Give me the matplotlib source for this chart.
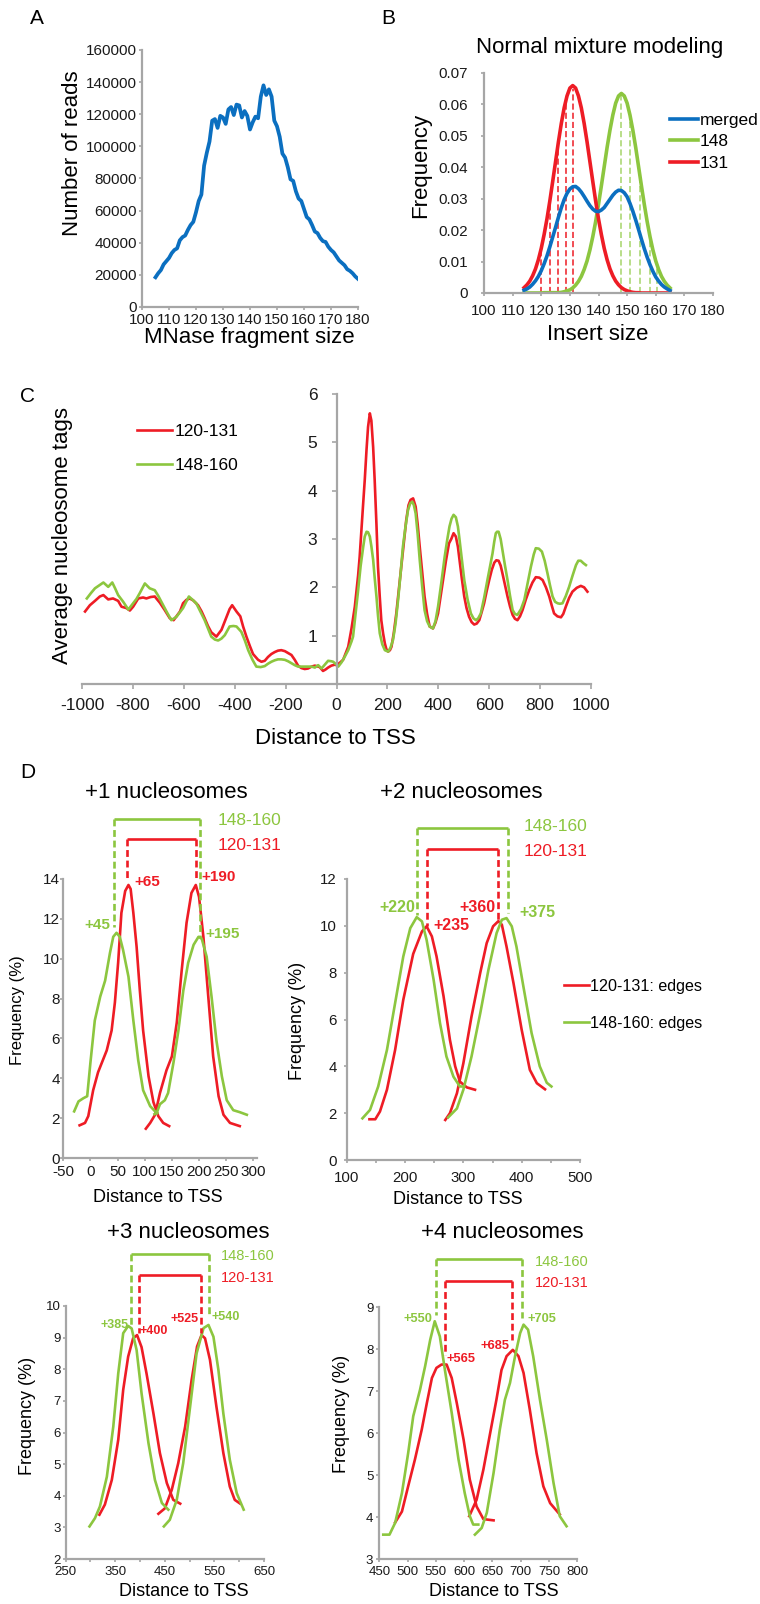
import matplotlib
matplotlib.use('Agg')
import matplotlib.pyplot as plt

W, H = 760, 1604
plt.rcParams['font.family'] = ['Liberation Sans', 'DejaVu Sans']
plt.rcParams['axes.unicode_minus'] = False

RED = '#ee1c25'
GREEN = '#8cc63f'
BLUE = '#0b6fc0'
GRAY = '#a6a6a6'

# ---------------- Panel A data ----------------
a_size = list(range(105, 181))
a_reads = [18500, 21000, 23000, 26500, 28500, 30500, 33500, 35500, 36500, 41500,
           43500, 44500, 48000, 51000, 53000, 59000, 66000, 70000, 88000, 96000,
           103000, 116000, 117000, 111500, 119000, 118000, 114000, 123000, 124500, 119500,
           126000, 125500, 118000, 122000, 119000, 110500, 115000, 118500, 117500, 131000,
           138000, 132000, 135500, 131000, 116000, 112500, 106000, 95500, 93000, 87000,
           79500, 78500, 72000, 67500, 66000, 61000, 56000, 54500, 51000, 47000,
           46000, 43000, 41000, 40500, 37500, 35500, 34000, 31500, 29000, 27500,
           26000, 23500, 22500, 21000, 19000, 17500]

# ---------------- Panel B data ----------------
b_size = list(range(114, 166))
b_131 = [0.0017, 0.0026, 0.0038, 0.0055, 0.0077, 0.0106, 0.0142, 0.0186, 0.0236, 0.0293,
         0.0355, 0.0418, 0.0481, 0.0539, 0.0589, 0.0627, 0.0652, 0.0660, 0.0652, 0.0627,
         0.0589, 0.0539, 0.0481, 0.0418, 0.0355, 0.0293, 0.0236, 0.0186, 0.0142, 0.0106,
         0.0077, 0.0055, 0.0038, 0.0026, 0.0017, 0.0011, 0.0007, 0.0004, 0.0002, 0.0001,
         0.0001, 0, 0, 0, 0, 0, 0, 0, 0, 0, 0, 0]
b_148 = [0, 0, 0, 0, 0, 0, 0, 0.0001, 0.0001, 0.0001,
         0.0001, 0.0001, 0.0001, 0.0002, 0.0004, 0.0007, 0.0010, 0.0016, 0.0025, 0.0037,
         0.0053, 0.0075, 0.0102, 0.0137, 0.0179, 0.0227, 0.0282, 0.0341, 0.0402, 0.0463,
         0.0518, 0.0566, 0.0604, 0.0627, 0.0635, 0.0627, 0.0604, 0.0566, 0.0518, 0.0463,
         0.0402, 0.0341, 0.0282, 0.0227, 0.0179, 0.0137, 0.0102, 0.0075, 0.0053, 0.0037,
         0.0025, 0.0016]
b_merged = [0.0009, 0.0013, 0.0019, 0.0028, 0.0039, 0.0053, 0.0071, 0.0093, 0.0118, 0.0147,
            0.0178, 0.0209, 0.0241, 0.0271, 0.0297, 0.0317, 0.0331, 0.0338, 0.0339, 0.0332,
            0.0321, 0.0307, 0.0292, 0.0278, 0.0267, 0.0260, 0.0259, 0.0264, 0.0272, 0.0285,
            0.0298, 0.0311, 0.0321, 0.0327, 0.0326, 0.0319, 0.0306, 0.0285, 0.0260, 0.0232,
            0.0202, 0.0171, 0.0141, 0.0114, 0.0090, 0.0069, 0.0051, 0.0038, 0.0027, 0.0019,
            0.0013, 0.0008]
b_red_cut_x = [120, 123, 126, 128.5, 131]
b_red_cut_y = [0.014, 0.029, 0.046, 0.060, 0.065]
b_green_cut_x = [148, 151, 154.5, 158, 160.3]
b_green_cut_y = [0.063, 0.055, 0.037, 0.018, 0.009]

# ---------------- Panel C data ----------------
c_red_x = [-988, -969, -949, -930, -916, -897, -878, -858, -845, -825, -812, -799, -779, -760,
           -747, -730, -714, -694, -675, -655, -640, -629, -615, -603, -590, -577, -563, -544,
           -530, -518, -505, -492, -472, -452, -432, -420, -410, -393, -378, -367, -354, -340,
           -328, -308, -295, -282, -269, -256, -243, -230, -217, -203, -190, -177, -164, -151,
           -138, -125, -112, -98, -85, -66, -53, -43, -33, -20, -7, 0, 13, 26, 46, 59, 72, 85,
           91, 98, 105, 111, 118, 124, 131, 137, 144, 150, 157, 163, 170, 176, 183, 190, 196,
           203, 210, 216, 225, 235, 245, 255, 265, 274, 283, 291, 301, 311, 319, 327, 337, 346,
           356, 366, 379, 389, 399, 408, 418, 430, 442, 451, 460, 469, 477, 482, 492, 502, 511,
           521, 531, 541, 551, 561, 570, 580, 590, 600, 610, 620, 628, 637, 645, 652, 662, 672,
           682, 692, 701, 711, 721, 731, 744, 757, 770, 783, 797, 810, 823, 836, 846, 855, 868,
           882, 891, 901, 914, 927, 944, 960, 973, 986]
c_red_y = [1.50, 1.63, 1.72, 1.81, 1.84, 1.75, 1.77, 1.72, 1.60, 1.57, 1.52, 1.60, 1.77, 1.79,
           1.77, 1.80, 1.81, 1.68, 1.53, 1.36, 1.32, 1.40, 1.50, 1.67, 1.74, 1.77, 1.73, 1.63,
           1.50, 1.36, 1.20, 1.07, 0.98, 1.12, 1.39, 1.55, 1.63, 1.50, 1.40, 1.19, 0.98, 0.78,
           0.62, 0.50, 0.46, 0.48, 0.56, 0.62, 0.66, 0.69, 0.70, 0.68, 0.64, 0.60, 0.50, 0.38,
           0.33, 0.31, 0.32, 0.36, 0.38, 0.35, 0.27, 0.30, 0.34, 0.38, 0.40, 0.39, 0.44, 0.50,
           0.77, 1.15, 1.60, 2.25, 2.63, 3.20, 3.75, 4.22, 4.85, 5.32, 5.60, 5.45, 4.90, 4.22,
           3.30, 2.43, 1.80, 1.32, 1.05, 0.84, 0.72, 0.67, 0.70, 0.77, 1.05, 1.46, 1.95, 2.43,
           2.95, 3.39, 3.70, 3.81, 3.84, 3.67, 3.30, 2.84, 2.30, 1.81, 1.45, 1.19, 1.15, 1.27,
           1.46, 1.78, 2.15, 2.55, 2.91, 3.00, 3.12, 3.05, 2.84, 2.63, 2.20, 1.81, 1.57, 1.39,
           1.28, 1.23, 1.25, 1.32, 1.48, 1.67, 1.92, 2.15, 2.36, 2.51, 2.56, 2.55, 2.45, 2.29,
           2.05, 1.81, 1.60, 1.43, 1.35, 1.32, 1.40, 1.53, 1.75, 1.94, 2.10, 2.21, 2.20, 2.15,
           2.00, 1.81, 1.62, 1.46, 1.40, 1.38, 1.45, 1.60, 1.78, 1.91, 1.99, 2.03, 2.00, 1.91]
c_green_x = [-981, -965, -949, -930, -916, -897, -881, -870, -858, -838, -818, -799, -786, -773,
             -753, -734, -714, -700, -688, -668, -649, -629, -603, -580, -565, -551, -535, -518,
             -505, -492, -478, -465, -452, -439, -420, -405, -393, -374, -360, -347, -330, -315,
             -298, -282, -269, -256, -243, -230, -217, -203, -190, -177, -164, -151, -125, -112,
             -98, -85, -72, -59, -46, -33, -20, -13, 0, 7, 20, 33, 46, 59, 65, 75, 85, 95, 105,
             111, 118, 124, 131, 137, 144, 150, 157, 163, 170, 180, 190, 203, 212, 222, 232, 242,
             252, 261, 271, 281, 290, 298, 304, 311, 319, 327, 337, 346, 356, 366, 379, 389, 399,
             412, 425, 435, 444, 452, 460, 469, 477, 482, 492, 502, 515, 528, 538, 548, 557, 567,
             580, 593, 603, 613, 620, 626, 631, 637, 645, 652, 662, 672, 682, 692, 701, 711, 725,
             738, 751, 764, 775, 783, 795, 807, 818, 829, 839, 849, 859, 869, 878, 888, 901, 914,
             928, 941, 950, 960, 970, 980]
c_green_y = [1.77, 1.88, 1.98, 2.05, 2.10, 2.01, 2.10, 1.98, 1.84, 1.70, 1.54, 1.67, 1.76, 1.88,
             2.08, 1.98, 1.94, 1.82, 1.70, 1.50, 1.32, 1.39, 1.57, 1.81, 1.74, 1.67, 1.50, 1.32,
             1.15, 0.98, 0.92, 0.90, 0.94, 1.01, 1.19, 1.20, 1.19, 1.08, 0.90, 0.70, 0.50, 0.36,
             0.35, 0.37, 0.42, 0.46, 0.49, 0.51, 0.51, 0.50, 0.47, 0.43, 0.39, 0.36, 0.36, 0.36,
             0.36, 0.34, 0.39, 0.32, 0.40, 0.48, 0.47, 0.46, 0.40, 0.36, 0.45, 0.57, 0.70, 0.88,
             0.98, 1.45, 1.94, 2.45, 2.84, 3.05, 3.15, 3.14, 3.05, 2.85, 2.57, 2.20, 1.81, 1.42,
             1.05, 0.82, 0.70, 0.67, 0.75, 0.91, 1.25, 1.74, 2.30, 2.84, 3.25, 3.60, 3.74, 3.77,
             3.70, 3.53, 3.10, 2.57, 2.00, 1.53, 1.30, 1.19, 1.15, 1.30, 1.60, 2.10, 2.63, 2.98,
             3.26, 3.42, 3.50, 3.45, 3.26, 3.05, 2.60, 2.15, 1.75, 1.46, 1.36, 1.32, 1.36, 1.46,
             1.78, 2.15, 2.42, 2.70, 2.95, 3.12, 3.15, 3.15, 3.00, 2.77, 2.45, 2.15, 1.82, 1.53,
             1.45, 1.43, 1.55, 1.74, 2.08, 2.43, 2.68, 2.81, 2.80, 2.74, 2.55, 2.29, 2.04, 1.81,
             1.70, 1.67, 1.66, 1.67, 1.82, 2.01, 2.25, 2.46, 2.55, 2.55, 2.50, 2.46]

# ---------------- Panel D data ----------------
d1_red_a_x = [-20, -10, -4, 5, 14, 30, 39, 45, 51, 57, 64, 70, 74, 79, 85, 91, 97, 107, 116, 125, 134, 145]
d1_red_a_y = [1.64, 1.76, 2.1, 3.4, 4.3, 5.4, 6.4, 7.8, 9.8, 12.3, 13.4, 13.7, 13.5, 12.3, 10.6, 8.4, 6.4, 4.1, 2.8, 2.1, 1.76, 1.6]
d1_red_b_x = [102, 110, 119, 128, 140, 150, 159, 168, 177, 186, 194, 200, 208, 217, 226, 236, 245, 257, 275]
d1_red_b_y = [1.47, 1.76, 2.17, 3.26, 4.4, 5.1, 6.8, 9.4, 11.8, 13.3, 13.7, 13.1, 11.1, 8.1, 5.1, 3.1, 2.17, 1.76, 1.6]
d1_green_a_x = [-30, -22, -13, -6, 0, 8, 18, 27, 36, 42, 48, 54, 60, 70, 79, 88, 97, 110, 119, 123]
d1_green_a_y = [2.34, 2.84, 3.0, 3.1, 4.8, 6.9, 8.1, 8.9, 10.3, 11.1, 11.3, 11.1, 10.45, 9.1, 6.9, 4.9, 3.4, 2.6, 2.34, 2.25]
d1_green_b_x = [118, 122, 128, 137, 143, 153, 162, 171, 180, 190, 199, 205, 214, 223, 232, 242, 251, 263, 275, 288]
d1_green_b_y = [2.2, 2.26, 2.7, 2.9, 3.26, 4.8, 6.4, 8.4, 9.8, 10.7, 11.1, 11.0, 10.1, 8.1, 5.9, 4.1, 2.9, 2.4, 2.3, 2.17]

d2_red_a_x = [139, 149, 157, 169, 183, 197, 214, 229, 237, 246, 254, 266, 277, 286, 294, 306, 320]
d2_red_a_y = [1.74, 1.74, 2.07, 3.0, 4.7, 6.84, 8.8, 9.76, 9.98, 9.55, 8.7, 7.0, 5.13, 4.0, 3.35, 3.1, 3.0]
d2_red_b_x = [269, 277, 289, 300, 314, 329, 340, 351, 360, 366, 374, 386, 400, 414, 426, 440]
d2_red_b_y = [1.71, 2.0, 2.85, 4.13, 6.13, 8.0, 9.26, 9.98, 10.2, 10.05, 9.12, 7.55, 5.56, 3.85, 3.28, 3.02]
d2_green_a_x = [127, 140, 154, 169, 183, 197, 209, 220, 229, 237, 249, 260, 271, 283, 294, 297]
d2_green_a_y = [1.78, 2.14, 3.14, 4.7, 6.7, 8.69, 9.9, 10.37, 10.19, 9.4, 7.7, 5.84, 4.42, 3.56, 3.14, 3.14]
d2_green_b_x = [274, 289, 300, 314, 329, 343, 357, 366, 374, 383, 391, 403, 417, 431, 443, 451]
d2_green_b_y = [1.82, 2.2, 3.0, 4.42, 6.27, 8.12, 9.69, 10.26, 10.33, 9.98, 9.12, 7.4, 5.42, 4.0, 3.3, 3.14]

d3_red_a_x = [318, 329, 343, 356, 366, 376, 386, 394, 403, 413, 427, 440, 454, 467, 481]
d3_red_a_y = [3.4, 3.72, 4.5, 5.77, 7.35, 8.4, 8.98, 9.08, 8.7, 7.87, 6.6, 5.35, 4.4, 3.87, 3.75]
d3_red_b_x = [437, 450, 464, 477, 491, 504, 515, 524, 531, 541, 554, 568, 581, 591, 602]
d3_red_b_y = [3.43, 3.6, 4.19, 5.03, 6.19, 7.66, 8.72, 9.08, 8.98, 8.3, 6.82, 5.35, 4.29, 3.87, 3.75]
d3_green_a_x = [298, 309, 319, 333, 346, 356, 366, 376, 383, 393, 403, 417, 430, 444, 457]
d3_green_a_y = [3.03, 3.29, 3.66, 4.6, 6.19, 7.87, 9.14, 9.37, 9.29, 8.61, 7.24, 5.66, 4.5, 3.77, 3.56]
d3_green_b_x = [448, 460, 474, 487, 501, 514, 528, 538, 548, 558, 568, 581, 595, 609]
d3_green_b_y = [3.03, 3.24, 3.87, 5.03, 6.82, 8.5, 9.3, 9.4, 9.03, 7.98, 6.6, 5.14, 4.08, 3.56]

d4_red_a_x = [478, 490, 501, 513, 525, 534, 543, 551, 560, 569, 578, 587, 599, 610, 622, 634, 652]
d4_red_a_y = [3.87, 4.13, 4.73, 5.37, 6.08, 6.71, 7.31, 7.55, 7.63, 7.63, 7.31, 6.71, 5.84, 4.89, 4.25, 3.95, 3.92]
d4_red_b_x = [609, 622, 634, 646, 657, 666, 675, 686, 696, 705, 716, 728, 740, 752, 769]
d4_red_b_y = [4.02, 4.41, 5.13, 6.0, 6.79, 7.5, 7.83, 7.98, 7.83, 7.43, 6.56, 5.52, 4.73, 4.33, 4.06]
d4_green_a_x = [457, 468, 478, 490, 501, 510, 522, 531, 540, 548, 557, 566, 578, 590, 601, 610, 616, 625]
d4_green_a_y = [3.58, 3.58, 3.86, 4.57, 5.52, 6.4, 7.03, 7.59, 8.22, 8.66, 8.3, 7.5, 6.48, 5.37, 4.57, 4.02, 3.82, 3.82]
d4_green_b_x = [619, 631, 640, 652, 663, 672, 681, 690, 699, 705, 713, 722, 734, 746, 758, 769, 781]
d4_green_b_y = [3.58, 3.74, 4.1, 5.05, 6.08, 6.79, 7.19, 7.83, 8.38, 8.58, 8.46, 7.83, 6.79, 5.84, 4.81, 4.02, 3.78]

# peak positions (bracket feet) and labels
d1_green_peaks = [43, 201]
d1_red_peaks = [68, 195]
d1_green_labels = ['+45', '+195']
d1_red_labels = ['+65', '+190']
d2_green_peaks = [221, 376]
d2_red_peaks = [237, 360]
d2_green_labels = ['+220', '+375']
d2_red_labels = ['+235', '+360']
d3_green_peaks = [382, 540]
d3_red_peaks = [398, 522]
d3_green_labels = ['+385', '+540']
d3_red_labels = ['+400', '+525']
d4_green_peaks = [550, 703]
d4_red_peaks = [566, 685]
d4_green_labels = ['+550', '+705']
d4_red_labels = ['+565', '+685']

# ---------------- helpers ----------------
fig = plt.figure(figsize=(7.6, 16.04), dpi=100)


def add_ax(x0, y0, x1, y1):
    return fig.add_axes([x0 / W, 1 - y1 / H, (x1 - x0) / W, (y1 - y0) / H])


def ftext(x, y, s, **kw):
    ha = kw.pop('ha', 'center')
    va = kw.pop('va', 'center')
    fig.text(x / W, 1 - y / H, s, ha=ha, va=va, **kw)


def style(ax, fs, ypad, xpad, tl=2.5):
    for s in ['top', 'right']:
        ax.spines[s].set_visible(False)
    for s in ['left', 'bottom']:
        ax.spines[s].set_color(GRAY)
        ax.spines[s].set_linewidth(1.6)
    ax.tick_params(axis='both', which='both', color=GRAY, width=1.2, length=tl,
                   labelsize=fs, labelcolor='#1a1a1a', direction='out')
    ax.tick_params(axis='y', which='both', pad=ypad)
    ax.tick_params(axis='x', which='both', pad=xpad)
    ax.patch.set_alpha(0)


def place_legend(ax, handles, labels, left_px, top_px, fs, hl, htp, ls):
    ax.legend(handles, labels, loc='upper left',
              bbox_to_anchor=(left_px / W, 1 - top_px / H), bbox_transform=fig.transFigure,
              frameon=False, fontsize=fs, handlelength=hl, handletextpad=htp,
              labelspacing=ls, borderpad=0, borderaxespad=0)


def bracket(ax, xs, ytop, ybots, color, lw=1.9):
    ax.plot(xs, [ytop, ytop], color=color, lw=lw, solid_capstyle='butt', clip_on=False)
    for x, yb in zip(xs, ybots):
        ax.plot([x, x], [ytop, yb], color=color, lw=lw, ls=(0, (2.6, 1.4)),
                dash_capstyle='butt', clip_on=False)


# ---------------- Panel A ----------------
axA = add_ax(142, 50, 358, 307)
axA.plot(a_size, a_reads, color=BLUE, lw=2.7, solid_joinstyle='round')
axA.set_xlim(100, 180)
axA.set_ylim(0, 160000)
axA.set_xticks(range(100, 181, 10))
axA.set_yticks(range(0, 160001, 20000))
style(axA, 11, 1.2, 1.8)
ftext(37, 18, 'A', fontsize=15)
ftext(72, 153, 'Number of reads', fontsize=16, rotation=90)
ftext(249, 338, 'MNase fragment size', fontsize=16)

# ---------------- Panel B ----------------
axB = add_ax(484, 73, 713, 293)
for x, y in zip(b_red_cut_x, b_red_cut_y):
    axB.plot([x, x], [0, y], color=RED, lw=1.1, ls=(0, (4, 2)))
for x, y in zip(b_green_cut_x, b_green_cut_y):
    axB.plot([x, x], [0, y], color='#a5d46a', lw=1.1, ls=(0, (4, 2)))
lg, = axB.plot(b_size, b_148, color=GREEN, lw=2.6)
lr, = axB.plot(b_size, b_131, color=RED, lw=2.6)
lb, = axB.plot(b_size, b_merged, color=BLUE, lw=2.6)
axB.set_xlim(100, 180)
axB.set_ylim(0, 0.07)
axB.set_xticks(range(100, 181, 10))
b_yt = [0, 0.01, 0.02, 0.03, 0.04, 0.05, 0.06, 0.07]
axB.set_yticks(b_yt)
axB.set_yticklabels(['0'] + ['%.2f' % v for v in b_yt[1:]])
style(axB, 11, 9, 5.2)
place_legend(axB, [lb, lg, lr], ['merged', '148', '131'], 670, 113, 12.5, 1.6, 0.12, 0.35)
ftext(388, 18, 'B', fontsize=15)
ftext(600, 47, 'Normal mixture modeling', fontsize=16)
ftext(421, 165, 'Frequency', fontsize=16, rotation=90)
ftext(598, 334, 'Insert size', fontsize=16)

# ---------------- Panel C ----------------
axC = add_ax(82, 394, 591, 684)
cr, = axC.plot(c_red_x, c_red_y, color=RED, lw=1.9)
cg, = axC.plot(c_green_x, c_green_y, color=GREEN, lw=1.9)
axC.set_xlim(-1000, 1000)
axC.set_ylim(0, 6)
axC.spines['left'].set_position(('data', 0))
axC.set_xticks(range(-1000, 1001, 200))
axC.set_yticks([1, 2, 3, 4, 5, 6])
style(axC, 12.5, 10.2, 6.4, tl=3.5)
place_legend(axC, [cr, cg], ['120-131', '148-160'], 137, 424, 12.5, 2.02, 0.17, 1.09)
ftext(28, 397, 'C', fontsize=15)
ftext(63, 535, 'Average nucleosome tags', fontsize=16, rotation=90)
ftext(335, 738, 'Distance to TSS', fontsize=16)
ftext(28, 772, 'D', fontsize=15)

# ---------------- Panel D1 ----------------
ax1 = add_ax(63.3, 879, 256.6, 1158)
ax1.plot(d1_red_a_x, d1_red_a_y, color=RED, lw=1.9)
ax1.plot(d1_red_b_x, d1_red_b_y, color=RED, lw=1.9)
ax1.plot(d1_green_a_x, d1_green_a_y, color=GREEN, lw=1.9)
ax1.plot(d1_green_b_x, d1_green_b_y, color=GREEN, lw=1.9)
ax1.set_xlim(-50, 306)
ax1.set_ylim(0, 14)
ax1.set_xticks(range(-50, 301, 50))
ax1.set_yticks(range(0, 15, 2))
style(ax1, 11, 0.3, 3, tl=2)
bracket(ax1, d1_green_peaks, 17.0, [11.6, 11.1], GREEN)
bracket(ax1, d1_red_peaks, 16.0, [13.95, 13.95], RED)
ax1.text(235, 16.96, '148-160', color=GREEN, fontsize=12.5, ha='left', va='center')
ax1.text(235, 15.7, '120-131', color=RED, fontsize=12.5, ha='left', va='center')
ax1.text(80, 13.85, d1_red_labels[0], color=RED, fontsize=11, fontweight='bold', ha='left', va='center')
ax1.text(205, 14.1, d1_red_labels[1], color=RED, fontsize=11, fontweight='bold', ha='left', va='center')
ax1.text(36, 11.7, d1_green_labels[0], color=GREEN, fontsize=11, fontweight='bold', ha='right', va='center')
ax1.text(211, 11.25, d1_green_labels[1], color=GREEN, fontsize=11, fontweight='bold', ha='left', va='center')
ftext(166, 793, '+1 nucleosomes', fontsize=16)
ftext(18, 1010, 'Frequency (%)', fontsize=12, rotation=90)
ftext(158, 1197, 'Distance to TSS', fontsize=13)

# ---------------- Panel D2 ----------------
ax2 = add_ax(346.7, 879, 580, 1160)
r2, = ax2.plot(d2_red_a_x, d2_red_a_y, color=RED, lw=1.9)
ax2.plot(d2_red_b_x, d2_red_b_y, color=RED, lw=1.9)
g2, = ax2.plot(d2_green_a_x, d2_green_a_y, color=GREEN, lw=1.9)
ax2.plot(d2_green_b_x, d2_green_b_y, color=GREEN, lw=1.9)
ax2.set_xlim(100, 500)
ax2.set_ylim(0, 12)
ax2.set_xticks(range(100, 501, 100))
ax2.set_xticks(range(150, 500, 100), minor=True)
ax2.set_yticks(range(0, 13, 2))
style(ax2, 10.8, 5.2, 5.9, tl=2)
bracket(ax2, d2_green_peaks, 14.19, [10.47, 10.56], GREEN)
bracket(ax2, d2_red_peaks, 13.3, [9.98, 10.26], RED)
ax2.text(404, 14.24, '148-160', color=GREEN, fontsize=12.5, ha='left', va='center')
ax2.text(404, 13.17, '120-131', color=RED, fontsize=12.5, ha='left', va='center')
ax2.text(218, 10.77, d2_green_labels[0], color=GREEN, fontsize=11.5, fontweight='bold', ha='right', va='center')
ax2.text(248, 10.0, d2_red_labels[0], color=RED, fontsize=11.5, fontweight='bold', ha='left', va='center')
ax2.text(355, 10.8, d2_red_labels[1], color=RED, fontsize=11.5, fontweight='bold', ha='right', va='center')
ax2.text(396, 10.56, d2_green_labels[1], color=GREEN, fontsize=11.5, fontweight='bold', ha='left', va='center')
place_legend(ax2, [r2, g2], ['120-131: edges', '148-160: edges'], 564, 979, 11.6, 1.55, 0.07, 1.37)
ftext(461, 792, '+2 nucleosomes', fontsize=16)
ftext(297.5, 1021, 'Frequency (%)', fontsize=13, rotation=90)
ftext(457.5, 1200, 'Distance to TSS', fontsize=13)

# ---------------- Panel D3 ----------------
ax3 = add_ax(65.7, 1306, 264, 1559)
ax3.plot(d3_red_a_x, d3_red_a_y, color=RED, lw=1.9)
ax3.plot(d3_red_b_x, d3_red_b_y, color=RED, lw=1.9)
ax3.plot(d3_green_a_x, d3_green_a_y, color=GREEN, lw=1.9)
ax3.plot(d3_green_b_x, d3_green_b_y, color=GREEN, lw=1.9)
ax3.set_xlim(250, 650)
ax3.set_ylim(2, 10)
ax3.set_xticks(range(250, 651, 100))
ax3.set_xticks(range(300, 650, 100), minor=True)
ax3.set_yticks(range(2, 11))
style(ax3, 9.5, 1.4, 3, tl=2)
bracket(ax3, d3_green_peaks, 11.63, [9.39, 9.64], GREEN)
bracket(ax3, d3_red_peaks, 10.97, [9.14, 9.14], RED)
ax3.text(563, 11.57, '148-160', color=GREEN, fontsize=10.5, ha='left', va='center')
ax3.text(563, 10.9, '120-131', color=RED, fontsize=10.5, ha='left', va='center')
ax3.text(377, 9.39, d3_green_labels[0], color=GREEN, fontsize=9, fontweight='bold', ha='right', va='center')
ax3.text(398.6, 9.2, d3_red_labels[0], color=RED, fontsize=9, fontweight='bold', ha='left', va='center')
ax3.text(519, 9.58, d3_red_labels[1], color=RED, fontsize=9, fontweight='bold', ha='right', va='center')
ax3.text(544, 9.64, d3_green_labels[1], color=GREEN, fontsize=9, fontweight='bold', ha='left', va='center')
ftext(188, 1232, '+3 nucleosomes', fontsize=16)
ftext(27.5, 1416, 'Frequency (%)', fontsize=13, rotation=90)
ftext(184, 1592, 'Distance to TSS', fontsize=13)

# ---------------- Panel D4 ----------------
ax4 = add_ax(379.3, 1307, 577.3, 1559)
ax4.plot(d4_red_a_x, d4_red_a_y, color=RED, lw=1.9)
ax4.plot(d4_red_b_x, d4_red_b_y, color=RED, lw=1.9)
ax4.plot(d4_green_a_x, d4_green_a_y, color=GREEN, lw=1.9)
ax4.plot(d4_green_b_x, d4_green_b_y, color=GREEN, lw=1.9)
ax4.set_xlim(450, 800)
ax4.set_ylim(3, 9)
ax4.set_xticks(range(450, 801, 50))
ax4.set_yticks(range(3, 10))
style(ax4, 9.5, 2.3, 3, tl=2)
bracket(ax4, d4_green_peaks, 10.14, [8.81, 8.74], GREEN)
bracket(ax4, d4_red_peaks, 9.62, [7.86, 8.21], RED)
ax4.text(725, 10.07, '148-160', color=GREEN, fontsize=10.5, ha='left', va='center')
ax4.text(725, 9.57, '120-131', color=RED, fontsize=10.5, ha='left', va='center')
ax4.text(544, 8.71, d4_green_labels[0], color=GREEN, fontsize=9.3, fontweight='bold', ha='right', va='center')
ax4.text(569, 7.75, d4_red_labels[0], color=RED, fontsize=9.3, fontweight='bold', ha='left', va='center')
ax4.text(681, 8.07, d4_red_labels[1], color=RED, fontsize=9.3, fontweight='bold', ha='right', va='center')
ax4.text(712, 8.71, d4_green_labels[1], color=GREEN, fontsize=9.3, fontweight='bold', ha='left', va='center')
ftext(502, 1233, '+4 nucleosomes', fontsize=16)
ftext(342, 1414, 'Frequency (%)', fontsize=13, rotation=90)
ftext(494, 1592, 'Distance to TSS', fontsize=13)

fig.savefig('out.png', dpi=100)
